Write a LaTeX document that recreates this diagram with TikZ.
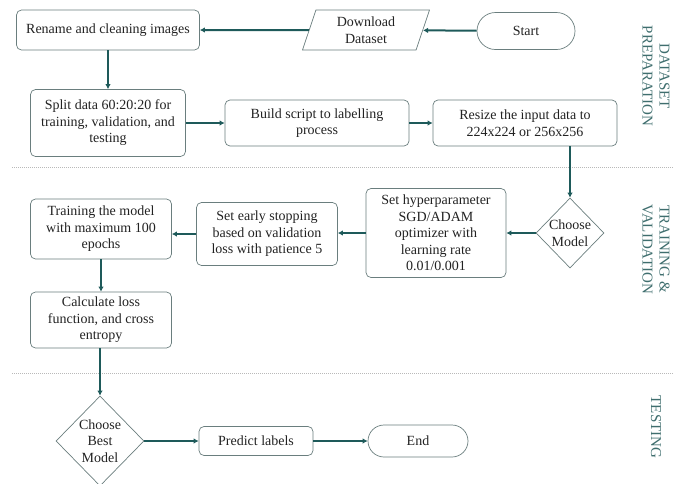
\documentclass[tikz,border=0pt]{standalone}
\usepackage{fontspec}
\setmainfont{Liberation Serif}
\usetikzlibrary{arrows.meta,shapes.geometric,shapes.misc}
\definecolor{arrowc}{HTML}{1E5A5A}
\definecolor{boxc}{HTML}{6A7E7E}
\definecolor{labc}{HTML}{3F6E6E}
\definecolor{txtc}{HTML}{222222}
\tikzset{
  base/.style={draw=boxc, line width=0.7pt, text=txtc, font=\fontsize{14}{16.5}\selectfont, align=center, inner sep=0pt},
  procbox/.style={base, rectangle, rounded corners=5pt},
  term/.style={base, rounded rectangle},
  decide/.style={base, diamond},
  iobox/.style={base, trapezium, trapezium left angle=63, trapezium right angle=117, trapezium stretches body},
  flow/.style={draw=arrowc, line width=2pt, -{Latex[length=5pt,width=5.5pt]}},
  sep/.style={draw=gray!55, line width=0.6pt, dash pattern=on 1.2pt off 0.8pt},
  phase/.style={text=labc, font=\fontsize{15}{17}\selectfont, align=center, rotate=-90},
  dtext/.style={text=txtc, font=\fontsize{14}{16.5}\selectfont, align=center}
}
\begin{document}
\begin{tikzpicture}[x=1pt,y=-1pt]
\useasboundingbox (0,0) rectangle (681,483);
% phase separators
\coordinate (s1a) at (12,167); \coordinate (s1b) at (673,167);
\coordinate (s2a) at (12,373); \coordinate (s2b) at (673,373);
\draw[sep] (s1a) -- (s1b);
\draw[sep] (s2a) -- (s2b);
% phase labels
\node[phase] (ph1) at (656,76) {DATASET\\PREPARATION};
\node[phase] (ph2) at (656,249) {TRAINING \&\\VALIDATION};
\node[phase] (ph3) at (656,427) {TESTING};
% nodes
\node[procbox, minimum width=183, minimum height=40] (ren) at (108,30) {Rename and cleaning images};
\node[iobox, minimum width=127, minimum height=40] (dl) at (366,30) {Download\\Dataset};
\node[term, minimum width=98, minimum height=37] (start) at (526,31) {Start};
\node[procbox, minimum width=155, minimum height=67] (split) at (108,123) {Split data 60:20:20 for\\training, validation, and\\testing};
\node[procbox, minimum width=184, minimum height=46] (build) at (317,123) {Build script to labelling\\process};
\node[procbox, minimum width=184, minimum height=46] (resize) at (525,123) {Resize the input data to\\224x224 or 256x256};
\node[decide, minimum width=68, minimum height=70, label={[dtext]center:Choose\\Model}] (cm) at (570,233) {};
\node[procbox, minimum width=140, minimum height=89] (hyp) at (436,233) {Set hyperparameter\\SGD/ADAM\\optimizer with\\learning rate\\0.01/0.001};
\node[procbox, minimum width=141, minimum height=63] (early) at (267,234) {Set early stopping\\based on validation\\loss with patience 5};
\node[procbox, minimum width=141, minimum height=60] (train) at (101,229) {Training the model\\with maximum 100\\epochs};
\node[procbox, minimum width=141, minimum height=56] (calc) at (101,320) {Calculate loss\\function, and cross\\entropy};
\node[decide, minimum width=88, minimum height=90, label={[dtext]center:Choose\\Best\\Model}] (cbm) at (100,441) {};
\node[procbox, minimum width=114, minimum height=29] (pred) at (256,441) {Predict labels};
\node[term, minimum width=100, minimum height=32] (end) at (418,441) {End};
% connectors
\draw[flow] (start) -- (dl);
\draw[flow] (dl) -- (ren);
\draw[flow] (ren) -- (split);
\draw[flow] (split) -- (build);
\draw[flow] (build) -- (resize);
\draw[flow] (cm |- resize.south) -- (cm.north);
\draw[flow] (cm) -- (hyp);
\draw[flow] (hyp.west) -- (early.east |- hyp.west);
\draw[flow] (early.west) -- (train.east |- early.west);
\draw[flow] (train) -- (calc);
\draw[flow] (calc.south -| cbm) -- (cbm.north);
\draw[flow] (cbm) -- (pred);
\draw[flow] (pred) -- (end);
\end{tikzpicture}
\end{document}
